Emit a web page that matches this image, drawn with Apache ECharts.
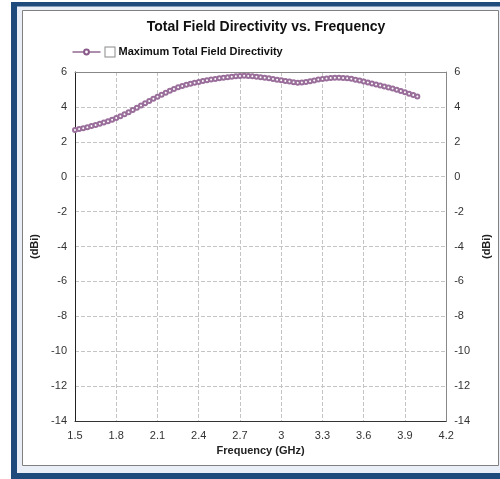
<!DOCTYPE html>
<html>
<head>
<meta charset="utf-8">
<script src="https://cdn.jsdelivr.net/npm/echarts@6/dist/echarts.min.js"></script>
<style>
  html, body { margin: 0; padding: 0; background: #fff; }
  #chart { width: 500px; height: 479px; }
</style>
</head>
<body>
<div id="chart"></div>
<script>
// frequency points (GHz) and directivity (dBi)
const freqs = [
  1.50, 1.53, 1.56, 1.59, 1.62, 1.65, 1.68, 1.71, 1.74, 1.77,
  1.80, 1.83, 1.86, 1.89, 1.92, 1.95, 1.98, 2.01, 2.04, 2.07,
  2.10, 2.13, 2.16, 2.19, 2.22, 2.25, 2.28, 2.31, 2.34, 2.37,
  2.40, 2.43, 2.46, 2.49, 2.52, 2.55, 2.58, 2.61, 2.64, 2.67,
  2.70, 2.73, 2.76, 2.79, 2.82, 2.85, 2.88, 2.91, 2.94, 2.97,
  3.00, 3.03, 3.06, 3.09, 3.12, 3.15, 3.18, 3.21, 3.24, 3.27,
  3.30, 3.33, 3.36, 3.39, 3.42, 3.45, 3.48, 3.51, 3.54, 3.57,
  3.60, 3.63, 3.66, 3.69, 3.72, 3.75, 3.78, 3.81, 3.84, 3.87,
  3.90, 3.93, 3.96, 3.99
]
const directivity = [
  2.68, 2.73, 2.78, 2.84, 2.90, 2.96, 3.03, 3.10, 3.18, 3.27,
  3.36, 3.47, 3.58, 3.70, 3.82, 3.95, 4.08, 4.21, 4.34, 4.46,
  4.58, 4.70, 4.81, 4.92, 5.03, 5.12, 5.20, 5.27, 5.33, 5.38,
  5.43, 5.48, 5.53, 5.57, 5.60, 5.64, 5.67, 5.70, 5.73, 5.75,
  5.77, 5.78, 5.77, 5.76, 5.73, 5.70, 5.67, 5.64, 5.60, 5.56,
  5.53, 5.49, 5.45, 5.41, 5.39, 5.40, 5.43, 5.47, 5.52, 5.57,
  5.60, 5.63, 5.66, 5.67, 5.67, 5.66, 5.64, 5.61, 5.56, 5.51,
  5.46, 5.40, 5.34, 5.29, 5.23, 5.17, 5.11, 5.05, 4.98, 4.91,
  4.84, 4.76, 4.68, 4.59
]
const seriesName = 'Maximum Total Field Directivity'

const chart = echarts.init(document.getElementById('chart'))
const font = 'Liberation Sans, Arial, sans-serif'

const yAxisCommon = {
  type: 'value',
  min: -14,
  max: 6,
  interval: 2,
  name: '(dBi)',
  nameLocation: 'middle',
  nameTextStyle: { fontFamily: font, fontSize: 11, fontWeight: 'bold', color: '#222' },
  axisTick: { show: false },
  axisLabel: { fontFamily: font, fontSize: 11, color: '#333', margin: 8 }
}

chart.setOption({
  animation: false,
  graphic: [
    { type: 'rect', z: -10, shape: { x: 11, y: 2, width: 489, height: 477 }, style: { fill: '#1f4a7c' } },
    { type: 'rect', z: -9, shape: { x: 17, y: 6.5, width: 483, height: 466.5 }, style: { fill: '#e9eef7' } },
    { type: 'rect', z: -8, shape: { x: 22.5, y: 10.5, width: 476, height: 455 }, style: { fill: '#fff', stroke: '#808080', lineWidth: 1 } }
  ],
  title: {
    text: 'Total Field Directivity vs. Frequency',
    left: 261,
    textAlign: 'center',
    top: 15,
    textStyle: { fontFamily: font, fontSize: 14, fontWeight: 'bold', color: '#111' }
  },
  legend: {
    left: 72,
    top: 46,
    padding: 0,
    itemWidth: 28,
    itemHeight: 6,
    data: [seriesName],
    lineStyle: { width: 1, color: '#5a1c5a' },
    itemStyle: { borderWidth: 1, color: '#8a5a8a' },
    formatter: name => '{box|}{t|' + name + '}',
    textStyle: {
      fontFamily: font,
      rich: {
        box: { width: 9, height: 9, borderColor: '#8a8a8a', borderWidth: 1, backgroundColor: '#fff' },
        t: { fontFamily: font, fontSize: 11, fontWeight: 'bold', color: '#111', padding: [0, 0, 0, 4] }
      }
    }
  },
  grid: { left: 75, right: 51, top: 72, bottom: 58 },
  xAxis: [{
    type: 'value',
    position: 'bottom',
    min: 1.5,
    max: 4.2,
    interval: 0.3,
    name: 'Frequency (GHz)',
    nameLocation: 'middle',
    nameGap: 24,
    nameTextStyle: { fontFamily: font, fontSize: 11, fontWeight: 'bold', color: '#222' },
    axisLine: { onZero: false, lineStyle: { color: '#333' } },
    axisTick: { show: false },
    axisLabel: {
      fontFamily: font, fontSize: 11, color: '#333', margin: 9,
      formatter: v => String(Math.round(v * 10) / 10)
    },
    splitLine: { show: true, lineStyle: { type: 'dashed', color: '#c4c4c4' } }
  }, {
    type: 'value',
    position: 'top',
    min: 1.5,
    max: 4.2,
    interval: 0.3,
    axisLine: { show: true, onZero: false, lineStyle: { color: '#888' } },
    axisTick: { show: false },
    axisLabel: { show: false },
    splitLine: { show: false }
  }],
  yAxis: [
    Object.assign({}, yAxisCommon, {
      position: 'left',
      nameGap: 28,
      axisLine: { show: true, onZero: false, lineStyle: { color: '#222' } },
      splitLine: { show: true, lineStyle: { type: 'dashed', color: '#c4c4c4' } }
    }),
    Object.assign({}, yAxisCommon, {
      position: 'right',
      nameGap: 30,
      axisLine: { show: true, onZero: false, lineStyle: { color: '#888' } },
      splitLine: { show: false }
    })
  ],
  series: [{
    name: seriesName,
    type: 'line',
    data: freqs.map((f, i) => [f, directivity[i]]),
    symbol: 'emptyCircle',
    symbolSize: 4,
    showSymbol: true,
    lineStyle: { color: '#5a1c5a', width: 1 },
    itemStyle: { color: '#9a6e9a', borderWidth: 1 }
  }, {
    type: 'line',
    yAxisIndex: 1,
    xAxisIndex: 1,
    data: [],
    silent: true
  }]
})
</script>
</body>
</html>
